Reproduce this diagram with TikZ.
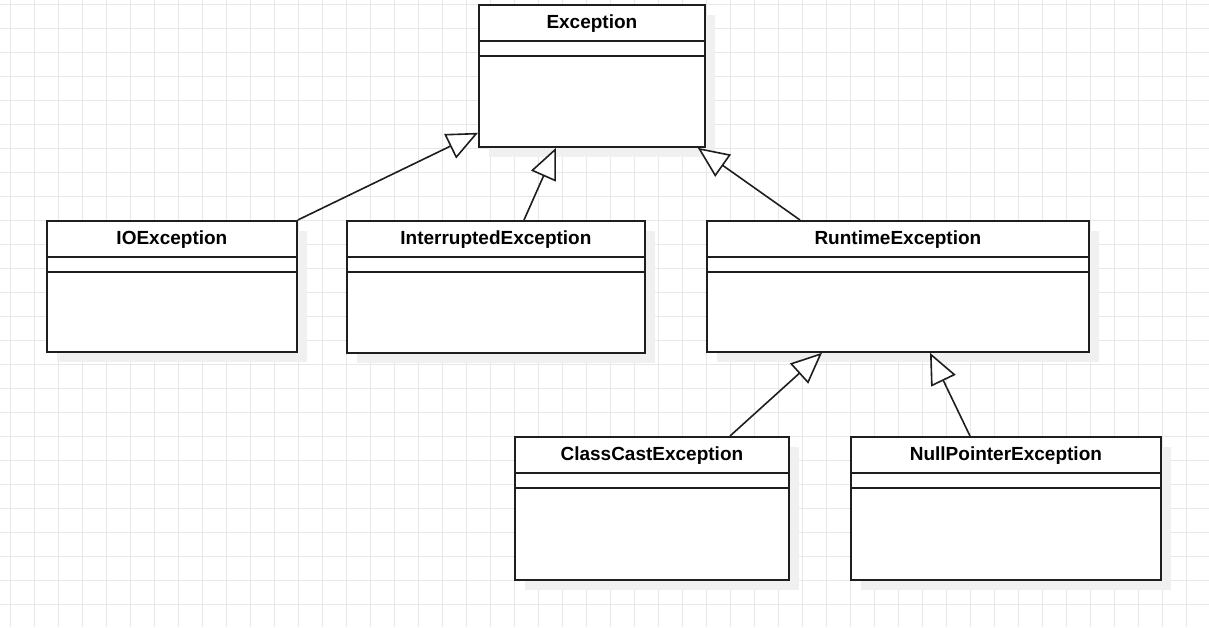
\documentclass[tikz,border=0pt]{standalone}
\usepackage{fontspec}
\setmainfont{Liberation Sans}
\usetikzlibrary{arrows.meta,shadows}
\definecolor{gridc}{HTML}{E8E8E8}
\definecolor{shadowc}{HTML}{F0F0F0}
\definecolor{linec}{HTML}{1E1E1E}
\tikzset{
  gridline/.style={draw=gridc, line width=0.9pt},
  cls/.style={draw=linec, fill=white, line width=1.8pt, anchor=north west, inner sep=0pt,
    drop shadow={shadow xshift=10pt, shadow yshift=-10pt, fill=shadowc, opacity=1}},
  clstitle/.style={font=\bfseries\fontsize{19}{23}\selectfont, text=black, inner sep=0pt},
  sepline/.style={draw=linec, line width=1.8pt},
  inherit/.style={draw=linec, line width=1.6pt,
    -{Triangle[open, fill=white, length=31pt, width=27pt, line width=1.6pt]}}
}
\newcommand{\umlbox}[6]{%
  \node[cls, minimum width=#4, minimum height=#5] (#1) at (#2,#3) {};
  \node[clstitle] (#1-t) at ([yshift=-20pt]#1.north) {#6};
  \draw[sepline] ([yshift=-37pt]#1.north west) -- ([yshift=-37pt]#1.north east);
  \draw[sepline] ([yshift=-52pt]#1.north west) -- ([yshift=-52pt]#1.north east);
}
\begin{document}
\begin{tikzpicture}[x=1pt, y=-1pt]
\useasboundingbox (0,0) rectangle (1209,627);
\fill[white] (0,0) rectangle (1209,627);
\foreach \k in {0,...,49} \draw[gridline] (10.5+24*\k,0) -- (10.5+24*\k,627);
\foreach \k in {0,...,25} \draw[gridline] (0,4.5+24*\k) -- (1209,4.5+24*\k);

\umlbox{exc}{478}{4}{226}{142}{Exception}
\umlbox{io}{46}{220}{250}{131}{IOException}
\umlbox{intr}{346}{220}{298}{132}{InterruptedException}
\umlbox{rt}{706}{220}{382}{131}{RuntimeException}
\umlbox{cc}{514}{436}{274}{143}{ClassCastException}
\umlbox{np}{850}{436}{310}{143}{NullPointerException}

\draw[inherit] (io.north east) -- ([yshift=15pt]exc.south west);
\draw[inherit] ([xshift=178pt]intr.north west) -- ([xshift=78pt]exc.south west);
\draw[inherit] ([xshift=94pt]rt.north west) -- ([xshift=-8pt]exc.south east);
\draw[inherit] ([xshift=216pt]cc.north west) -- ([xshift=116pt]rt.south west);
\draw[inherit] ([xshift=120pt]np.north west) -- ([xshift=224pt]rt.south west);
\end{tikzpicture}
\end{document}
